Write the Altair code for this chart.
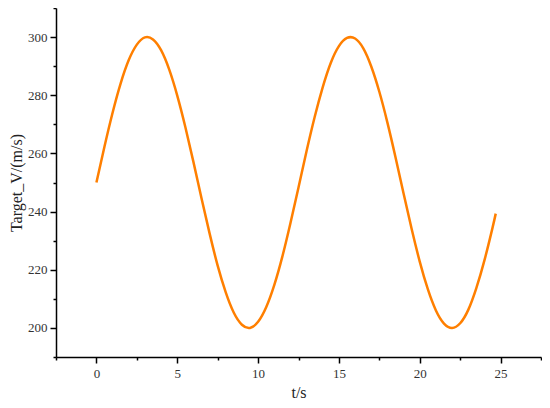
import altair as alt
import pandas as pd

t_values = [0, 0.5, 1, 1.5, 2, 2.5, 3, 3.5, 4, 4.5, 5, 5.5, 6, 6.5, 7, 7.5, 8, 8.5, 9, 9.5,
            10, 10.5, 11, 11.5, 12, 12.5, 13, 13.5, 14, 14.5, 15, 15.5, 16, 16.5, 17, 17.5,
            18, 18.5, 19, 19.5, 20, 20.5, 21, 21.5, 22, 22.5, 23, 23.5, 24, 24.5, 24.7]
v_values = [250.0, 262.4, 274.0, 284.1, 292.1, 297.4, 299.9, 299.2, 295.5, 288.9, 279.9,
            269.1, 257.1, 244.6, 232.5, 221.4, 212.2, 205.2, 201.1, 200.0, 202.1, 207.1,
            214.7, 224.5, 236.0, 248.3, 260.8, 272.5, 282.8, 291.2, 296.9, 299.7, 299.5,
            296.2, 289.9, 281.2, 270.6, 258.7, 246.2, 234.0, 222.8, 213.3, 206.0, 201.5,
            200.0, 201.6, 206.2, 213.7, 223.2, 234.4, 239.3]

x_ticks = [-2.5, 0, 2.5, 5, 7.5, 10, 12.5, 15, 17.5, 20, 22.5, 25, 27.5]
y_ticks = [190, 200, 210, 220, 230, 240, 250, 260, 270, 280, 290, 300, 310]

df = pd.DataFrame({"t": t_values, "v": v_values})

FONT = "Liberation Serif"

x_axis = alt.Axis(
    title="t/s", values=x_ticks,
    labelExpr="datum.value % 5 == 0 ? datum.label : ''",
    tickSize={"condition": {"test": "datum.value % 5 == 0", "value": 6}, "value": 3},
    grid=False, domainColor="black", tickColor="black", domainWidth=1.5, tickWidth=1.5,
    labelFont=FONT, labelFontSize=13, labelColor="#333333", labelPadding=4,
    titleFont=FONT, titleFontSize=16, titleFontWeight="normal", titleColor="#222222",
    titlePadding=4, labelFlush=False,
)
y_axis = alt.Axis(
    title="Target_V/(m/s)", values=y_ticks,
    labelExpr="datum.value % 20 == 0 ? datum.label : ''",
    tickSize={"condition": {"test": "datum.value % 20 == 0", "value": 6}, "value": 3},
    grid=False, domainColor="black", tickColor="black", domainWidth=1.5, tickWidth=1.5,
    labelFont=FONT, labelFontSize=13, labelColor="#333333", labelPadding=3,
    titleFont=FONT, titleFontSize=16, titleFontWeight="normal", titleColor="#222222",
    titlePadding=3, labelFlush=False,
)

chart = alt.Chart(df).mark_line(color="#FF7F00", strokeWidth=2.5, interpolate="natural").encode(
    x=alt.X("t:Q", scale=alt.Scale(domain=[-2.5, 27.5], nice=False, zero=False), axis=x_axis),
    y=alt.Y("v:Q", scale=alt.Scale(domain=[190, 310], nice=False, zero=False), axis=y_axis),
).properties(
    width=485, height=349,
    background="white",
    autosize=alt.AutoSizeParams(type="none"),
    padding={"left": 48, "top": 0, "right": 1, "bottom": 50},
).configure_view(stroke=None)

chart.save("out.html", embed_options={"renderer": "svg", "actions": False})
